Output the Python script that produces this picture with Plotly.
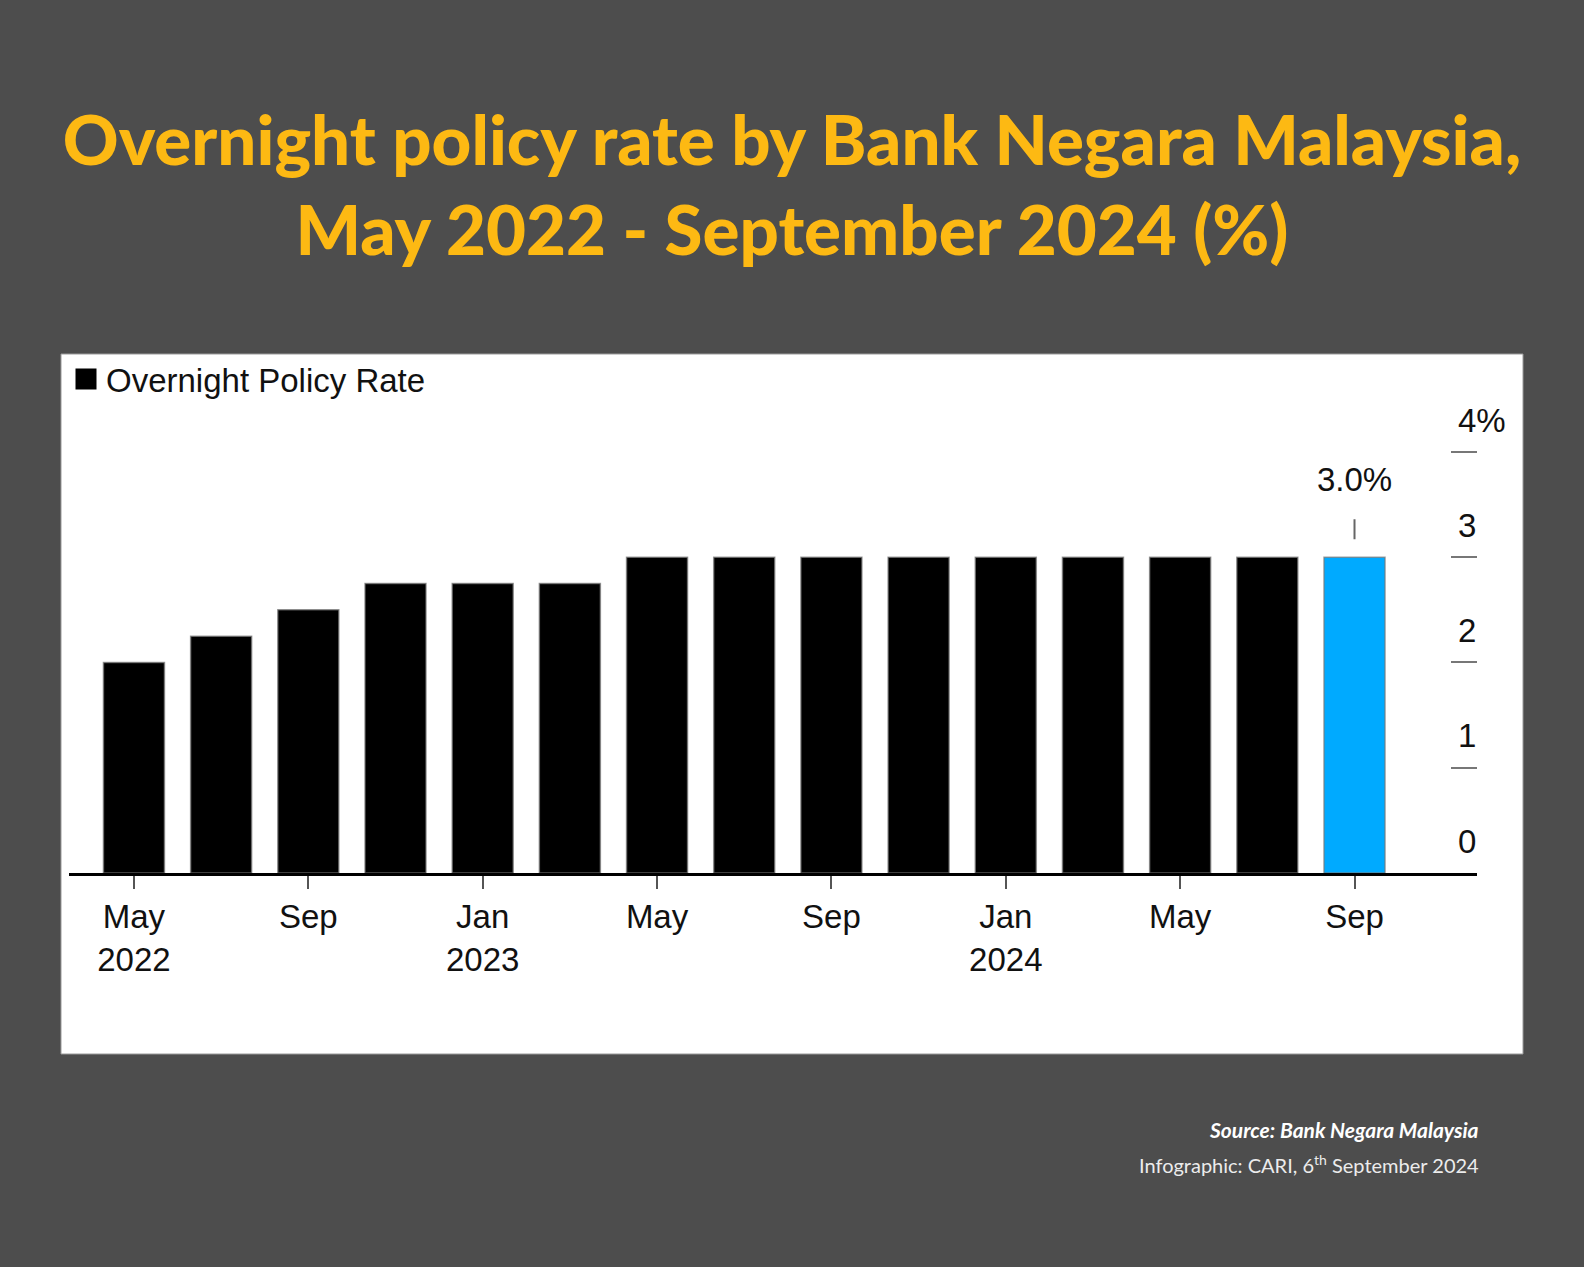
import plotly.graph_objects as go

# Overnight policy rate, one bar per MPC month (every 2 months)
periods = ["2022-05", "2022-07", "2022-09", "2022-11", "2023-01", "2023-03",
           "2023-05", "2023-07", "2023-09", "2023-11", "2024-01", "2024-03",
           "2024-05", "2024-07", "2024-09"]
opr = [2.00, 2.25, 2.50, 2.75, 2.75, 2.75,
       3.00, 3.00, 3.00, 3.00, 3.00, 3.00,
       3.00, 3.00, 3.00]

tick_periods = periods[::2]
tick_labels = ["May<br>2022", "Sep", "Jan<br>2023", "May", "Sep",
               "Jan<br>2024", "May", "Sep"]
y_ticks = [0, 1, 2, 3, 4]
y_tick_labels = ["0", "1", "2", "3", "4%"]

series_name = "Overnight Policy Rate"
title_text = "Overnight policy rate by Bank Negara Malaysia,<br>May 2022 - September 2024 (%)"

W, H = 1584, 1267
BG = "#4d4d4d"
YELLOW = "#fdb913"
BLUE = "#00aaff"
chart_font = "Liberation Sans, Arial, sans-serif"

bar_colors = ["#000000"] * (len(opr) - 1) + [BLUE]

fig = go.Figure()

fig.add_trace(go.Bar(
    x=periods,
    y=opr,
    marker=dict(color=bar_colors, line=dict(color="rgba(120,120,120,0.7)", width=1.5)),
    showlegend=False,
    hoverinfo="x+y",
))

# legend entry only
fig.add_trace(go.Scatter(
    x=[None], y=[None],
    mode="markers",
    name=series_name,
    marker=dict(symbol="square", size=16, color="#000000",
                line=dict(color="#000000", width=5)),
))

fig.add_annotation(
    x=periods[-1], y=opr[-1],
    text="%.1f%%" % opr[-1],
    showarrow=True, arrowhead=0, arrowwidth=2, arrowcolor="#666666",
    ax=0, ay=-78, standoff=18, startstandoff=20,
    font=dict(family=chart_font, size=33, color="#111111"),
)

fig.add_annotation(
    xref="paper", yref="paper", x=1481 / W, y=1 - 1129 / H,
    xanchor="right", yanchor="middle", showarrow=False,
    text="<b><i>Source: Bank Negara Malaysia</i></b>",
    font=dict(family="Lato, sans-serif", size=21, color="#ffffff"),
)
fig.add_annotation(
    xref="paper", yref="paper", x=1481 / W, y=1 - 1164 / H,
    xanchor="right", yanchor="middle", showarrow=False,
    text="Infographic: CARI, 6<sup>th</sup> September 2024",
    font=dict(family="Lato, sans-serif", size=20, color="#ececec"),
)

# white chart panel
fig.add_shape(
    type="rect", xref="paper", yref="paper", layer="below",
    x0=61 / W, x1=1523 / W, y0=1 - 1054 / H, y1=1 - 354 / H,
    fillcolor="#ffffff", line=dict(color="#9a9a9a", width=1),
)

fig.update_layout(
    width=W, height=H,
    margin=dict(l=0, r=0, t=0, b=0, autoexpand=False),
    paper_bgcolor=BG,
    plot_bgcolor="rgba(0,0,0,0)",
    bargap=0.30,
    title=dict(
        text=title_text,
        x=0.5, xanchor="center",
        y=1 - 165 / H, yanchor="top",
        automargin=False,
        font=dict(family="Lato, sans-serif", size=69, color=YELLOW, weight=900),
    ),
    legend=dict(
        x=66 / W, y=1 - 351 / H, xanchor="left", yanchor="top",
        bgcolor="rgba(0,0,0,0)",
        font=dict(family=chart_font, size=33, color="#111111"),
    ),
    xaxis=dict(
        type="category",
        domain=[69 / W, 1477 / W],
        range=[-0.745, len(periods) - 1 + 1.405],
        tickmode="array", tickvals=tick_periods, ticktext=tick_labels,
        ticks="outside", ticklen=13, tickwidth=2, tickcolor="#555555",
        showline=True, linecolor="#000000", linewidth=2.5,
        showgrid=False, zeroline=False, automargin=False,
        tickfont=dict(family=chart_font, size=33, color="#111111"),
    ),
    yaxis=dict(
        domain=[1 - 873 / H, 1 - 446.7 / H],
        range=[0, 4.05],
        side="right",
        tickmode="array", tickvals=y_ticks, ticktext=y_tick_labels,
        ticks="inside", ticklen=26, tickwidth=2, tickcolor="#777777",
        ticklabelshift=-32, ticklabelstandoff=-20,
        showline=False, showgrid=False, zeroline=False, automargin=False,
        tickfont=dict(family=chart_font, size=33, color="#111111"),
    ),
)

fig.write_html("out.html", config={"displayModeBar": False},
               post_script="document.body.style.margin='0';")
